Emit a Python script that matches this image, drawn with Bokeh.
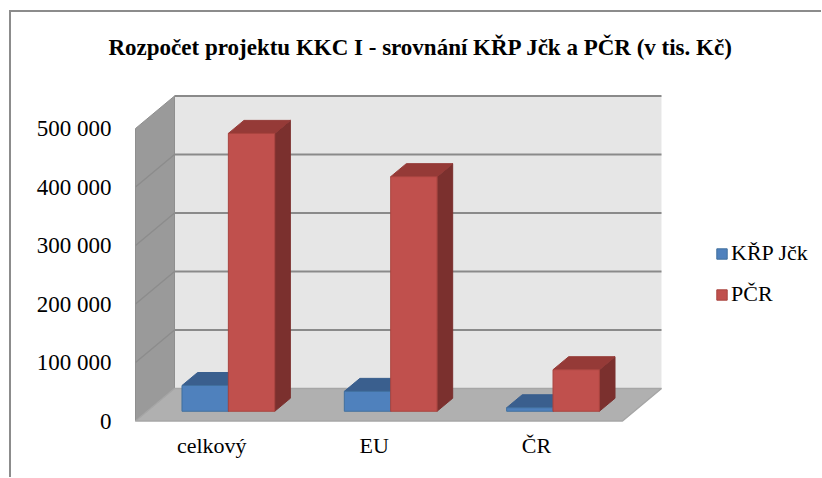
from bokeh.plotting import figure
from bokeh.models import Range1d, FixedTicker, Legend, LegendItem, Title
from bokeh.embed import file_html
from bokeh.resources import INLINE

# ---------------- data ----------------
categories = ["celkový", "EU", "ČR"]
series = ["KŘP Jčk", "PČR"]
krp_jck = [44000, 34000, 6000]
pcr = [475000, 401000, 71000]
y_ticks = [0, 100000, 200000, 300000, 400000, 500000]
y_tick_labels = ["0", "100 000", "200 000", "300 000", "400 000", "500 000"]
y_max = 500000
title_text = "Rozpočet projektu KKC I - srovnání KŘP Jčk a PČR (v tis. Kč)"

values = [krp_jck, pcr]

# ---------------- style ----------------
front_colors = ["#4F81BD", "#C0504D"]
top_colors = ["#3A5F8E", "#953A37"]
side_colors = ["#2F4D74", "#7B302E"]
edge_colors = ["#41709F", "#A9443F"]
FONT = "'Liberation Serif', serif"

# ---------------- geometry (px) ----------------
W, H = 810, 465
ML, MT, MB = 122, 68, 53
FW = W - ML
FH = H - MT - MB
PX_CAT = 162.33      # px per category along the front floor edge
PX_VAL = 0.000585    # px per value unit
pad_left_px = 2.0
pad_bottom_px = 3.5
x_start = -pad_left_px / PX_CAT
x_end = x_start + FW / PX_CAT
y_start = -pad_bottom_px / PX_VAL
y_end = y_start + FH / PX_VAL
DX = 39.0 / PX_CAT          # full depth offset in x units
DY = 32.5 / PX_VAL          # full depth offset in value units
n = len(categories)
gap_width = 0.75
bar_w = 1.0 / (1.0 + gap_width) / len(series)
d_front, d_back = 0.3, 0.7
label_shift = 0.03

p = figure(frame_width=FW, frame_height=FH,
           x_range=Range1d(x_start, x_end), y_range=Range1d(y_start, y_end),
           output_backend="svg", toolbar_location=None,
           min_border_left=ML, min_border_top=MT, min_border_bottom=MB, min_border_right=0,
           outline_line_color=None, background_fill_color=None, border_fill_color=None,
           styles={"border-top": "2px solid #8c8c8c", "border-left": "2px solid #8c8c8c",
                   "margin-left": "9px", "margin-top": "10px"})
p.xgrid.visible = False
p.ygrid.visible = False

# back wall
p.quad(left=DX, right=n + DX, bottom=DY, top=y_max + DY, fill_color="#E6E6E6", line_color=None)
gt = y_ticks[1:]
p.segment(x0=[DX] * len(gt), y0=[t + DY for t in gt], x1=[n + DX] * len(gt), y1=[t + DY for t in gt],
          line_color="#8a8a8a", line_width=2)
# side wall
p.patch([0, 0, DX, DX], [0, y_max, y_max + DY, DY], fill_color="#9A9A9A", line_color="#8f8f8f", line_width=1)
st = y_ticks[1:-1]
p.segment(x0=[0] * len(st), y0=st, x1=[DX] * len(st), y1=[t + DY for t in st],
          line_color="#8c8c8c", line_width=1.5)
# floor
p.patch([0, n, n + DX, DX], [0, 0, DY, DY], fill_color="#B0B0B0", line_color="#a6a6a6", line_width=1.5)

# bars
front_renderers = []
for s in range(len(series)):
    fx, fy, tx, ty, sx, sy = [], [], [], [], [], []
    for i in range(n):
        v = values[s][i]
        xl = i + 0.5 - bar_w * len(series) / 2 + s * bar_w
        xr = xl + bar_w
        fdx, fdy = d_front * DX, d_front * DY
        bdx, bdy = d_back * DX, d_back * DY
        fx.append([xl + fdx, xr + fdx, xr + fdx, xl + fdx])
        fy.append([fdy, fdy, v + fdy, v + fdy])
        tx.append([xl + fdx, xr + fdx, xr + bdx, xl + bdx])
        ty.append([v + fdy, v + fdy, v + bdy, v + bdy])
        sx.append([xr + fdx, xr + bdx, xr + bdx, xr + fdx])
        sy.append([fdy, bdy, v + bdy, v + fdy])
    p.patches(sx, sy, fill_color=side_colors[s], line_color=side_colors[s], line_width=1)
    p.patches(tx, ty, fill_color=top_colors[s], line_color=top_colors[s], line_width=1)
    r = p.patches(fx, fy, fill_color=front_colors[s], line_color=edge_colors[s], line_width=1)
    front_renderers.append(r)

# axes
p.yaxis.ticker = FixedTicker(ticks=y_ticks)
p.yaxis.major_label_overrides = {t: l for t, l in zip(y_ticks, y_tick_labels)}
p.yaxis.axis_line_color = None
p.yaxis.major_tick_line_color = None
p.yaxis.minor_tick_line_color = None
p.yaxis.major_label_standoff = 16
p.yaxis.major_label_text_font = FONT
p.yaxis.major_label_text_font_size = "23px"
p.yaxis.major_label_text_color = "black"

x_ticks = [i + 0.5 - label_shift for i in range(n)]
p.xaxis.ticker = FixedTicker(ticks=x_ticks)
p.xaxis.major_label_overrides = {t: c for t, c in zip(x_ticks, categories)}
p.xaxis.axis_line_color = None
p.xaxis.major_tick_line_color = None
p.xaxis.minor_tick_line_color = None
p.xaxis.major_label_standoff = 2
p.xaxis.major_label_text_font = FONT
p.xaxis.major_label_text_font_size = "22px"
p.xaxis.major_label_text_color = "black"

# legend
legend = Legend(items=[LegendItem(label=series[s], renderers=[front_renderers[s]]) for s in range(len(series))],
                location=(582, 117), orientation="vertical",
                glyph_width=13, glyph_height=13, label_standoff=3, spacing=15,
                label_height=26, padding=0, margin=0,
                border_line_color=None, background_fill_color=None,
                label_text_font=FONT, label_text_font_size="22px", label_text_color="black")
p.add_layout(legend)

# title
p.add_layout(Title(text=title_text, align="left", vertical_align="top", offset=-25, standoff=38,
                   text_font=FONT, text_font_size="23px", text_font_style="bold",
                   text_color="black"), "above")

open("out.html", "w").write(file_html(p, INLINE))
